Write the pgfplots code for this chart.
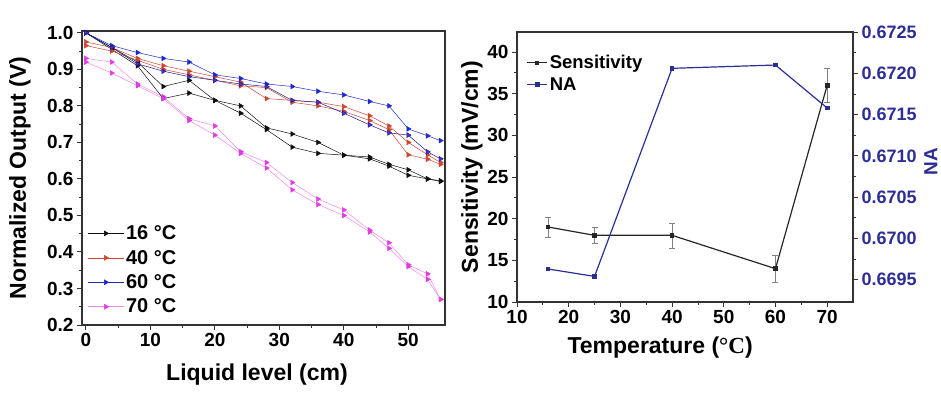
\documentclass[border=0pt]{standalone}
\usepackage{fontspec}
\setmainfont{Liberation Sans}
\newfontfamily\serif{Liberation Serif}
\usepackage{pgfplots}
\pgfplotsset{compat=1.18}
\definecolor{c16}{RGB}{15,15,15}
\definecolor{c40}{RGB}{205,70,50}
\definecolor{c60}{RGB}{30,40,205}
\definecolor{c70}{RGB}{225,60,225}
\definecolor{navy}{RGB}{45,45,150}
\pgfplotsset{
  tfont/.style={font=\bfseries\fontsize{19bp}{21bp}\selectfont},
  common/.style={
    scale only axis, anchor=south west,
    /pgf/number format/assume math mode=true,
    tick align=outside, xtick pos=bottom, ytick pos=left,
    major tick length=5bp, minor tick length=3bp,
    every tick/.style={line width=1bp, black!80},
    every minor tick/.style={line width=0.8bp, black!80},
    axis line style={line width=1.3bp, black!80},
    tick label style={tfont},
    label style={font=\bfseries\fontsize{23bp}{26bp}\selectfont},
  },
  tri/.style={line width=0.5bp, mark=triangle*, mark size=2.8bp},
}
\begin{document}
\begin{tikzpicture}
\useasboundingbox (0bp,0bp) rectangle (941bp,-394bp);
% ---------- panel a ----------
\begin{axis}[common,
  at={(82bp,-325bp)}, width=363bp, height=294bp,
  xmin=-0.6, xmax=55.7, ymin=0.2, ymax=1.005,
  xtick={0,10,20,30,40,50}, minor x tick num=1,
  ytick={0.2,0.3,...,1.0}, minor y tick num=1,
  yticklabel style={/pgf/number format/.cd, fixed, fixed zerofill, precision=1},
  xlabel={Liquid level (cm)}, ylabel={Normalized Output (V)},
  xlabel style={at={(axis description cs:0.482,-0.17)}, anchor=center},
  ylabel style={at={(axis description cs:-0.171,0.5)}, anchor=center},
  legend style={draw=none, fill=none, at={(axis description cs:0.012,0.025)}, anchor=south west,
    font=\bfseries\fontsize{20bp}{22bp}\selectfont, row sep=5bp, inner sep=1bp},
  legend cell align=left,
  legend image code/.code={\draw[mark repeat=2, mark phase=2, #1] plot coordinates {(0bp,0bp) (18bp,0bp) (36bp,0bp)};},
]
\addplot[tri, c16, mark options={fill=c16, rotate=-90}] coordinates {
(0,1.0) (4,0.96) (8,0.92) (12,0.853) (16,0.87) (20,0.815) (24,0.80) (28,0.74) (32,0.723) (36,0.70) (40,0.665) (44,0.66) (47,0.64) (50,0.625) (53,0.60) (55,0.595)};
\addlegendentry{16 °C}
\addplot[tri, c40, mark options={fill=c40, rotate=-90}] coordinates {
(0,0.975) (4,0.96) (8,0.93) (12,0.91) (16,0.895) (20,0.88) (24,0.865) (28,0.82) (32,0.815) (36,0.81) (40,0.798) (44,0.773) (47,0.745) (50,0.70) (53,0.666) (55,0.645)};
\addlegendentry{40 °C}
\addplot[tri, c60, mark options={fill=c60, rotate=-90}] coordinates {
(0,1.0) (4,0.965) (8,0.946) (12,0.93) (16,0.92) (20,0.885) (24,0.875) (28,0.86) (32,0.853) (36,0.84) (40,0.83) (44,0.812) (47,0.80) (50,0.737) (53,0.718) (55,0.705)};
\addlegendentry{60 °C}
\addplot[tri, c70!60, mark options={fill=c70, draw=c70, rotate=-90}] coordinates {
(0,0.93) (4,0.92) (8,0.86) (12,0.825) (16,0.765) (20,0.745) (24,0.675) (28,0.645) (32,0.59) (36,0.545) (40,0.515) (44,0.46) (47,0.425) (50,0.365) (53,0.34) (55,0.27)};
\addlegendentry{70 °C}
\addplot[tri, c16, mark options={fill=c16, rotate=-90}, forget plot] coordinates {
(0,1.0) (4,0.955) (8,0.91) (12,0.82) (16,0.835) (20,0.815) (24,0.78) (28,0.735) (32,0.687) (36,0.67) (40,0.665) (44,0.655) (47,0.635) (50,0.61) (53,0.60) (55,0.593)};
\addplot[tri, c40, mark options={fill=c40, rotate=-90}, forget plot] coordinates {
(0,0.965) (4,0.95) (8,0.925) (12,0.90) (16,0.885) (20,0.87) (24,0.855) (28,0.85) (32,0.81) (36,0.80) (40,0.785) (44,0.76) (47,0.735) (50,0.666) (53,0.654) (55,0.64)};
\addplot[tri, c60!70!black, mark options={fill=c60!70!c70, rotate=-90}, forget plot] coordinates {
(0,1.0) (4,0.96) (8,0.915) (12,0.895) (16,0.88) (20,0.87) (24,0.86) (28,0.853) (32,0.815) (36,0.81) (40,0.78) (44,0.748) (47,0.726) (50,0.72) (53,0.674) (55,0.655)};
\addplot[tri, c70!60, mark options={fill=c70, draw=c70, rotate=-90}, forget plot] coordinates {
(0,0.92) (4,0.89) (8,0.855) (12,0.82) (16,0.76) (20,0.72) (24,0.67) (28,0.63) (32,0.57) (36,0.53) (40,0.50) (44,0.455) (47,0.41) (50,0.36) (53,0.325) (55,0.27)};
\node[font=\bfseries\fontsize{18bp}{20bp}\selectfont] at (axis description cs:0.02,1.068) {a)};
\end{axis}
% ---------- panel b ----------
\begin{axis}[common,
  at={(517bp,-302bp)}, width=336bp, height=270bp,
  xmin=10, xmax=75, ymin=10, ymax=42.4,
  xtick={10,20,...,70}, minor x tick num=1,
  ytick={10,15,...,40}, minor y tick num=1,
  xlabel={Temperature ({\serif °C})}, ylabel={Sensitivity (mV/cm)},
  xlabel style={at={(axis description cs:0.426,-0.167)}, anchor=center},
  ylabel style={at={(axis description cs:-0.134,0.5)}, anchor=center},
]
\addplot[black!85, line width=1.2bp, mark=square*, mark size=1.8bp,
  error bars/.cd, y dir=both, y explicit,
  error bar style={line width=0.6bp, gray},
  error mark options={rotate=90, mark size=3bp, gray}] coordinates {
(16,19) +- (0,1.2)
(25,18) +- (0,1.0)
(40,18) +- (0,1.5)
(60,14) +- (0,1.6)
(70,36) +- (0,2.0)};
\node[font=\bfseries\fontsize{18bp}{20bp}\selectfont] at (axis description cs:0.02,1.052) {b)};
\end{axis}
\begin{axis}[common,
  at={(517bp,-302bp)}, width=336bp, height=270bp,
  xmin=10, xmax=75, ymin=0.66923, ymax=0.6725,
  axis x line=none, axis y line*=right, ytick pos=right,
  ytick={0.6695,0.67,0.6705,0.671,0.6715,0.672,0.6725}, minor y tick num=1,
  yticklabel style={navy, font=\bfseries\fontsize{18bp}{20bp}\selectfont, /pgf/number format/.cd, fixed, fixed zerofill, precision=4},
  scaled y ticks=false,
  ylabel={NA},
  ylabel style={at={(axis description cs:1.232,0.52)}, anchor=center, navy, font=\bfseries\fontsize{19bp}{21bp}\selectfont},
  legend style={draw=none, fill=none, at={(axis description cs:0.025,0.925)}, anchor=north west,
    font=\bfseries\fontsize{18.5bp}{20bp}\selectfont, row sep=3bp, inner sep=1bp},
  legend cell align=left,
  legend image code/.code={\draw[mark repeat=2, mark phase=2, #1] plot coordinates {(0bp,0bp) (10bp,0bp) (20bp,0bp)};},
]
\addlegendimage{black!85, line width=1.2bp, mark=square*, mark size=1.5bp}
\addlegendentry{Sensitivity}
\addplot[navy, line width=1.2bp, mark=square*, mark size=1.8bp] coordinates {
(16,0.66963) (25,0.66954) (40,0.67206) (60,0.6721) (70,0.67158)};
\addlegendentry{NA}
\end{axis}
\end{tikzpicture}
\end{document}
